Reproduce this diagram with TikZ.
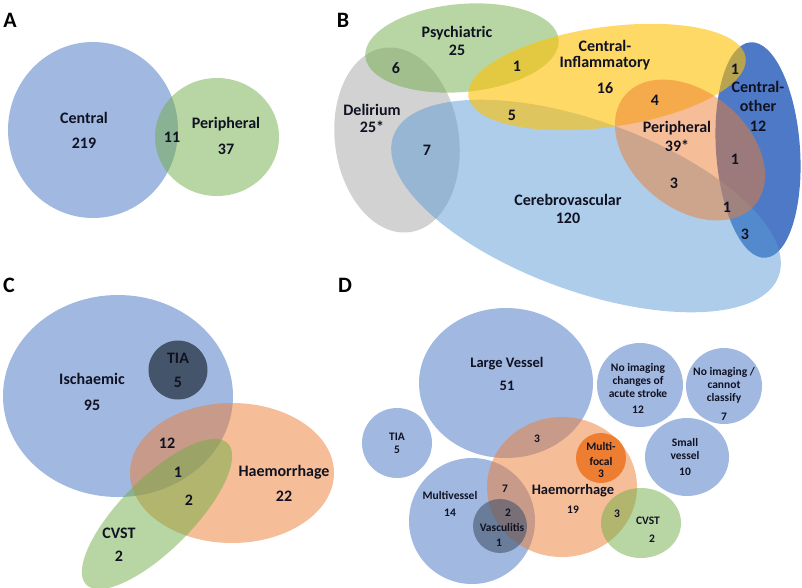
\documentclass[tikz,border=0pt]{standalone}
\usepackage{fontspec}
\setmainfont{Carlito}
\definecolor{cblue}{HTML}{4472C4}
\definecolor{cgreen}{HTML}{70AD47}
\definecolor{corange}{HTML}{ED7D31}
\definecolor{cgold}{HTML}{FFC000}
\definecolor{cgrey}{HTML}{A5A5A5}
\definecolor{csky}{HTML}{5B9BD5}
\definecolor{cnavy}{HTML}{44546A}
\definecolor{txt}{HTML}{101222}
\tikzset{
  lbl/.style={font=\bfseries\fontsize{16}{17}\selectfont, text=txt, inner sep=0pt, align=center},
  lblm/.style={font=\bfseries\fontsize{14.5}{15}\selectfont, text=txt, inner sep=0pt, align=center},
  lbls/.style={font=\bfseries\fontsize{11.5}{12}\selectfont, text=txt, inner sep=0pt, align=center},
  panel/.style={font=\bfseries\fontsize{22}{24}\selectfont, text=black, inner sep=0pt},
  sblue/.style={fill=cblue, fill opacity=0.5},
  sgreen/.style={fill=cgreen, fill opacity=0.5},
  sorange/.style={fill=corange, fill opacity=0.5},
  sgold/.style={fill=cgold, fill opacity=0.6},
  sgrey/.style={fill=cgrey, fill opacity=0.5},
  ssky/.style={fill=csky, fill opacity=0.5},
}
\begin{document}
\begin{tikzpicture}[x=1pt,y=-1pt]
\useasboundingbox (0,0) rectangle (802,587);
% ---------- Panel A ----------
\node[panel] (pA) at (10,20) {A};
\fill[sblue] (93,130) ellipse [x radius=85, y radius=88];
\fill[sgreen] (217,137) ellipse [x radius=62, y radius=59];
\node[lbl] (a1) at (84,118) {Central};
\node[lbl] (a2) at (84,143) {219};
\node[lbl] (a3) at (172,137) {11};
\node[lbl] (a4) at (226,124) {Peripheral};
\node[lbl] (a5) at (226,149) {37};
% ---------- Panel B ----------
\node[panel] (pB) at (343,20) {B};
\fill[cblue, fill opacity=0.95, rotate around={4:(758,150)}] (758,150) ellipse [x radius=42, y radius=108];
\fill[sgrey, rotate around={8:(397,140)}] (397,140) ellipse [x radius=62, y radius=93];
\fill[sgreen, rotate around={5:(462,48)}] (462,48) ellipse [x radius=97, y radius=44];
\fill[ssky, rotate around={-20:(586,206)}] (586,206) ellipse [x radius=205, y radius=85];
\fill[sgold, rotate around={8:(607,77)}] (607,77) ellipse [x radius=140, y radius=50];
\fill[sorange, rotate around={-40:(690,150)}] (690,150) ellipse [x radius=85, y radius=58];
\node[lbl] (b1) at (457,33) {Psychiatric};
\node[lbl] (b2) at (457,50) {25};
\node[lbl] (b3) at (396,68) {6};
\node[lbl] (b4) at (517,66) {1};
\node[lbl] (b5) at (605,46) {Central-};
\node[lbl] (b6) at (605,63) {Inflammatory};
\node[lbl] (b7) at (605,88) {16};
\node[lbl] (b8) at (735,69) {1};
\node[lbl] (b9) at (758,87) {Central-};
\node[lbl] (b10) at (758,106) {other};
\node[lbl] (b11) at (758,126) {12};
\node[lbl] (b12) at (655,100) {4};
\node[lbl] (b13) at (372,110) {Delirium};
\node[lbl] (b14) at (372,127) {25*};
\node[lbl] (b15) at (512,115) {5};
\node[lbl] (b16) at (427,150) {7};
\node[lbl] (b17) at (677,128) {Peripheral};
\node[lbl] (b18) at (677,146) {39*};
\node[lbl] (b19) at (735,159) {1};
\node[lbl] (b20) at (674,183) {3};
\node[lbl] (b21) at (568,200) {Cerebrovascular};
\node[lbl] (b22) at (568,218) {120};
\node[lbl] (b23) at (727,207) {1};
\node[lbl] (b24) at (745,234) {3};
% ---------- Panel C ----------
\node[panel] (pC) at (9,285) {C};
\fill[sblue] (118,396) ellipse [x radius=115, y radius=101];
\fill[cnavy] (178,370) circle [radius=29.5];
\fill[sorange] (232,473) ellipse [x radius=102, y radius=70];
\fill[sgreen, rotate around={45:(157,514)}] (157,514) ellipse [x radius=100, y radius=36];
\node[lbl] (c1) at (92,379) {Ischaemic};
\node[lbl] (c2) at (92,405) {95};
\node[lbl] (c3) at (178,358) {TIA};
\node[lbl] (c4) at (178,382) {5};
\node[lbl] (c5) at (167,443) {12};
\node[lbl] (c6) at (178,472) {1};
\node[lbl] (c7) at (189,500) {2};
\node[lbl] (c8) at (284,472) {Haemorrhage};
\node[lbl] (c9) at (284,496) {22};
\node[lbl] (c10) at (119,533) {CVST};
\node[lbl] (c11) at (119,556) {2};
% ---------- Panel D ----------
\node[panel] (pD) at (345,285) {D};
\fill[sblue] (506,383) ellipse [x radius=87, y radius=75];
\fill[sblue] (640,385) ellipse [x radius=43, y radius=42];
\fill[sblue] (724,386) circle [radius=38];
\fill[sblue] (687,457) ellipse [x radius=42, y radius=39];
\fill[sblue] (397,443) circle [radius=35];
\fill[sblue] (472,521) circle [radius=63];
\fill[sorange] (562,487) ellipse [x radius=75, y radius=70];
\fill[corange] (601,458) circle [radius=25];
\fill[cnavy, fill opacity=0.6] (500,526) circle [radius=27];
\fill[sgreen] (641,523) ellipse [x radius=40, y radius=35];
\node[lblm] (d1) at (507,364) {Large Vessel};
\node[lblm] (d2) at (507,386) {51};
\node[lbls] (d3) at (638,368) {No imaging};
\node[lbls] (d4) at (638,381) {changes of};
\node[lbls] (d5) at (638,393) {acute stroke};
\node[lbls] (d6) at (638,410) {12};
\node[lbls] (d7) at (724,372) {No imaging /};
\node[lbls] (d8) at (724,385) {cannot};
\node[lbls] (d9) at (724,398) {classify};
\node[lbls] (d10) at (724,417) {7};
\node[lbls] (d11) at (397,437) {TIA};
\node[lbls] (d12) at (397,450) {5};
\node[lbls] (d13) at (537,439) {3};
\node[lbls] (d14) at (601,446) {Multi-};
\node[lbls] (d15) at (601,461) {focal};
\node[lbls] (d16) at (601,474) {3};
\node[lbls] (d17) at (685,442) {Small};
\node[lbls] (d18) at (685,455) {vessel};
\node[lbls] (d19) at (685,472) {10};
\node[lbls] (d20) at (505,489) {7};
\node[lblm] (d21) at (573,491) {Haemorrhage};
\node[lbls] (d22) at (573,510) {19};
\node[lbls] (d23) at (450,495) {Multivessel};
\node[lbls] (d24) at (450,513) {14};
\node[lbls] (d25) at (508,513) {2};
\node[lbls] (d26) at (502,527) {Vasculitis};
\node[lbls] (d27) at (499,543) {1};
\node[lbls] (d28) at (617,514) {3};
\node[lbls] (d29) at (648,521) {CVST};
\node[lbls] (d30) at (652,539) {2};
\end{tikzpicture}
\end{document}
